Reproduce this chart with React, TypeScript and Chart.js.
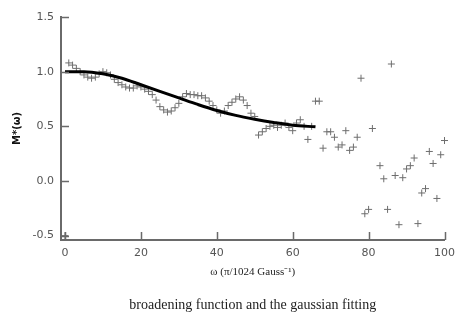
import React, { useEffect, useRef } from "react";
import { Chart, registerables } from "chart.js";

Chart.register(...registerables);

// measured data (ω, M*(ω))
const omegaData: number[] = [
  0, 1, 2, 3, 4, 5, 6, 7, 8, 9, 10, 11, 12, 13, 14, 15, 16, 17, 18, 19, 20,
  21, 22, 23, 24, 25, 26, 27, 28, 29, 30, 31, 32, 33, 34, 35, 36, 37, 38, 39, 40,
  41, 42, 43, 44, 45, 46, 47, 48, 49, 50, 51, 52, 53, 54, 55, 56, 57, 58, 59, 60,
  61, 62, 63, 64, 65, 66, 67, 68, 69, 70, 71, 72, 73, 74, 75, 76, 77, 78, 79, 80,
  81, 83, 84, 85, 86, 87, 88, 89, 90, 91, 92, 93, 94, 95, 96, 97, 98, 99, 100,
];
const mData: number[] = [
  -0.5, 1.08, 1.06, 1.03, 1.0, 0.97, 0.95, 0.94, 0.95, 0.98, 1.0,
  0.99, 0.97, 0.93, 0.9, 0.88, 0.86, 0.85, 0.85, 0.87, 0.86,
  0.84, 0.82, 0.79, 0.74, 0.68, 0.65, 0.63, 0.64, 0.67, 0.71,
  0.77, 0.8, 0.79, 0.79, 0.78, 0.78, 0.76, 0.73, 0.69, 0.65,
  0.62, 0.64, 0.69, 0.72, 0.75, 0.77, 0.74, 0.69, 0.62, 0.59,
  0.42, 0.45, 0.48, 0.5, 0.51, 0.49, 0.51, 0.53, 0.49, 0.46,
  0.53, 0.56, 0.5, 0.38, 0.5, 0.73, 0.73, 0.3, 0.45, 0.45,
  0.4, 0.31, 0.33, 0.46, 0.28, 0.31, 0.4, 0.94, -0.3, -0.26,
  0.48, 0.14, 0.02, -0.26, 1.07, 0.05, -0.4, 0.03, 0.11, 0.14,
  0.21, -0.39, -0.11, -0.07, 0.27, 0.16, -0.16, 0.24, 0.37,
];

// gaussian fit curve
const fitOmega: number[] = [0, 5, 10, 15, 20, 25, 30, 35, 40, 45, 50, 55, 60, 66];
const fitM: number[] = [1.0, 1.0, 0.98, 0.94, 0.88, 0.82, 0.76, 0.7, 0.645, 0.6, 0.565, 0.535, 0.51, 0.495];

const xTicks: number[] = [0, 20, 40, 60, 80, 100];
const yTicks: number[] = [-0.5, 0.0, 0.5, 1.0, 1.5];

const xTitle = "ω (π/1024 Gauss⁻¹)";
const yTitle = "M*(ω)";
const caption = "broadening function and the gaussian fitting";

const AXIS_COLOR = "#6a6a6a";
const TICK_FONT = { family: "'DejaVu Sans', Verdana, sans-serif", size: 11 };

const decorPlugin = {
  id: "decor",
  afterDraw(chart: any) {
    const { ctx, chartArea, scales } = chart;
    const xs = scales.x;
    const ys = scales.y;
    ctx.save();
    ctx.strokeStyle = AXIS_COLOR;
    ctx.lineWidth = 1.5;
    ctx.beginPath();
    yTicks.forEach((v) => {
      const py = Math.round(ys.getPixelForValue(v)) + 0.5;
      ctx.moveTo(chartArea.left, py);
      ctx.lineTo(chartArea.left + 8, py);
    });
    xTicks.forEach((v) => {
      const px = Math.round(xs.getPixelForValue(v)) + 0.5;
      ctx.moveTo(px, chartArea.bottom);
      ctx.lineTo(px, chartArea.bottom - 8);
    });
    ctx.stroke();
    ctx.fillStyle = "#222";
    ctx.font = "14px 'Liberation Serif', 'Times New Roman', serif";
    ctx.textAlign = "center";
    ctx.textBaseline = "middle";
    ctx.fillText(caption, (chartArea.left + chartArea.right) / 2, 305);
    ctx.restore();
  },
};

export default function App() {
  const ref = useRef<HTMLCanvasElement | null>(null);
  useEffect(() => {
    if (!ref.current) return;
    const chart = new Chart(ref.current, {
      type: "scatter",
      data: {
        datasets: [
          {
            type: "line",
            label: "fit",
            data: fitOmega.map((x, i) => ({ x, y: fitM[i] })),
            borderColor: "#000",
            borderWidth: 3,
            pointRadius: 0,
            fill: false,
            cubicInterpolationMode: "monotone",
            order: 0,
          } as any,
          {
            label: "data",
            data: omegaData.map((x, i) => ({ x, y: mData[i] })),
            pointStyle: "cross",
            pointRadius: 3.5,
            borderColor: "#6e6e6e",
            backgroundColor: "#6e6e6e",
            borderWidth: 1,
            clip: false,
            order: 1,
          } as any,
        ],
      },
      options: {
        animation: false,
        responsive: true,
        maintainAspectRatio: false,
        layout: { padding: { top: 17, right: 11, left: 0, bottom: 0 } },
        plugins: {
          legend: { display: false },
          tooltip: { enabled: false },
          title: { display: false },
        },
        scales: {
          x: {
            type: "linear",
            min: -1.05,
            max: 100,
            afterBuildTicks: (s: any) => {
              s.ticks = xTicks.map((v) => ({ value: v }));
            },
            afterFit: (s: any) => {
              s.height = 82;
            },
            ticks: {
              color: "#555",
              font: TICK_FONT,
              padding: 7,
              maxRotation: 0,
              autoSkip: false,
            },
            grid: { display: true, drawOnChartArea: false, drawTicks: false },
            border: { display: true, color: AXIS_COLOR, width: 2 },
            title: {
              display: true,
              text: xTitle,
              color: "#222",
              font: { family: "'Liberation Serif', 'Times New Roman', serif", size: 11 },
              padding: { top: 0, bottom: 43 },
            },
          },
          y: {
            type: "linear",
            min: -0.54,
            max: 1.5,
            afterBuildTicks: (s: any) => {
              s.ticks = yTicks.map((v) => ({ value: v }));
            },
            afterFit: (s: any) => {
              s.width = 61;
            },
            ticks: {
              color: "#555",
              font: TICK_FONT,
              padding: 7,
              callback: (v: any) => Number(v).toFixed(1),
            },
            grid: { display: true, drawOnChartArea: false, drawTicks: false },
            border: { display: true, color: AXIS_COLOR, width: 2 },
            title: {
              display: true,
              text: yTitle,
              color: "#111",
              font: { family: "'DejaVu Sans', Arial, sans-serif", size: 10, weight: "bold" },
              padding: { top: 11, bottom: 0 },
            },
          },
        },
      },
      plugins: [decorPlugin],
    });
    return () => chart.destroy();
  }, []);
  return (
    <div style={{ position: "fixed", left: 0, top: 0, width: 462, height: 322, background: "#fff" }}>
      <canvas ref={ref} />
    </div>
  );
}
